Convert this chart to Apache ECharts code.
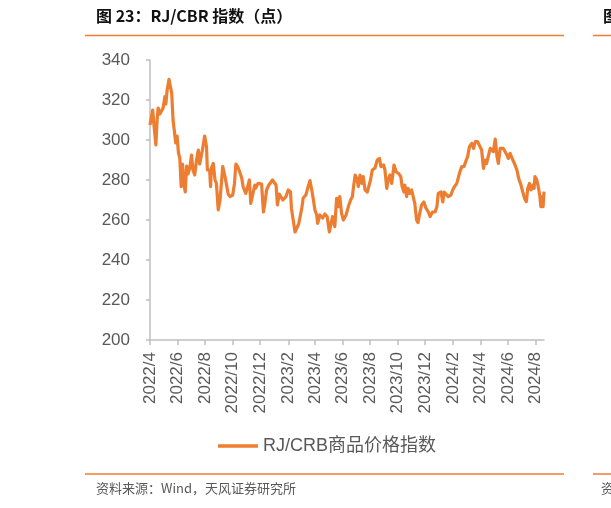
<!DOCTYPE html>
<html>
<head>
<meta charset="utf-8">
<script src="https://cdn.jsdelivr.net/npm/echarts@6/dist/echarts.min.js"></script>
<style>
html,body{margin:0;padding:0;background:#fff;}
#c{width:611px;height:508px;}
</style>
</head>
<body>
<div id="c"></div>
<script>
var title = '图 23：RJ/CBR 指数（点）';
var seriesName = 'RJ/CRB商品价格指数';
var source = '资料来源：Wind，天风证券研究所';

var dates = [
'2022-04-01','2022-04-05','2022-04-07','2022-04-10','2022-04-14','2022-04-17','2022-04-19','2022-04-23','2022-04-30',
'2022-05-04','2022-05-06','2022-05-09','2022-05-13','2022-05-19','2022-05-22','2022-05-26','2022-05-28','2022-05-31',
'2022-06-03','2022-06-06','2022-06-09','2022-06-12','2022-06-15','2022-06-18','2022-06-21','2022-06-24','2022-06-28',
'2022-07-02','2022-07-05','2022-07-09','2022-07-13','2022-07-17','2022-07-20','2022-07-26','2022-07-31',
'2022-08-04','2022-08-06','2022-08-11','2022-08-13','2022-08-15','2022-08-19','2022-08-23','2022-08-26','2022-08-30',
'2022-09-03','2022-09-09','2022-09-14','2022-09-17','2022-09-21','2022-09-25',
'2022-10-01','2022-10-05','2022-10-08','2022-10-12','2022-10-15','2022-10-21','2022-10-24','2022-10-28','2022-10-30',
'2022-11-03','2022-11-07','2022-11-10','2022-11-14','2022-11-19','2022-11-21','2022-11-26','2022-11-30',
'2022-12-04','2022-12-08','2022-12-11','2022-12-15','2022-12-20','2022-12-24','2022-12-28',
'2023-01-01','2023-01-05','2023-01-08','2023-01-12','2023-01-16','2023-01-20','2023-01-22','2023-01-27',
'2023-02-01','2023-02-06','2023-02-08','2023-02-12','2023-02-16','2023-02-19','2023-02-24',
'2023-03-03','2023-03-06','2023-03-12','2023-03-17','2023-03-21','2023-03-25','2023-03-28',
'2023-04-01','2023-04-05','2023-04-07','2023-04-12','2023-04-18','2023-04-23','2023-04-28',
'2023-05-03','2023-05-10','2023-05-15','2023-05-19','2023-05-23','2023-05-26','2023-05-30',
'2023-06-03','2023-06-09','2023-06-14','2023-06-19','2023-06-23','2023-06-25','2023-06-29',
'2023-07-03','2023-07-06','2023-07-10','2023-07-14','2023-07-17','2023-07-21','2023-07-26','2023-07-31',
'2023-08-02','2023-08-06','2023-08-12','2023-08-17','2023-08-22','2023-08-25','2023-08-31',
'2023-09-03','2023-09-07','2023-09-10','2023-09-14','2023-09-18','2023-09-23','2023-09-28',
'2023-10-03','2023-10-08','2023-10-11','2023-10-15','2023-10-17','2023-10-21','2023-10-24','2023-10-28',
'2023-11-01','2023-11-04','2023-11-08','2023-11-12','2023-11-15','2023-11-19','2023-11-23','2023-11-28',
'2023-12-03','2023-12-08','2023-12-12','2023-12-17','2023-12-23','2023-12-27','2023-12-30',
'2024-01-05','2024-01-09','2024-01-12','2024-01-16','2024-01-21','2024-01-27','2024-01-31',
'2024-02-04','2024-02-09','2024-02-13','2024-02-16','2024-02-20','2024-02-25',
'2024-03-01','2024-03-04','2024-03-08','2024-03-13','2024-03-17','2024-03-21','2024-03-26','2024-03-30',
'2024-04-04','2024-04-08','2024-04-12','2024-04-15','2024-04-19','2024-04-23','2024-04-27','2024-04-30',
'2024-05-04','2024-05-08','2024-05-11','2024-05-15','2024-05-19','2024-05-22','2024-05-26','2024-05-30',
'2024-06-02','2024-06-06','2024-06-12','2024-06-17','2024-06-21','2024-06-25','2024-06-30',
'2024-07-04','2024-07-08','2024-07-12','2024-07-15','2024-07-19','2024-07-22','2024-07-27','2024-07-29','2024-07-31',
'2024-08-04','2024-08-08','2024-08-11','2024-08-13','2024-08-17','2024-08-18','2024-08-20'
];

var values = [
307.5,307,315,307,297.5,311,316,313,316,
321.7,318,325,330.3,323.5,310,309,298.5,302,
293.5,291,276.7,288,278,274,287,283,286,
292.5,285,282.5,290,295,288,295,302,
296.7,285,285,276.7,286,288.3,280,278.3,265,
270,286.7,281.7,282.5,273,271.7,
272.5,278.3,288,286.7,285,281,276.7,277.5,273.3,
274,280,268.3,269,277.5,276,278.3,277.5,
278,264,268,275,277.5,278,280,
280,277.5,267.5,273,272,270,269,271.7,
275,274,265.8,265,254,255,258,
266,271,272.5,276.7,279.7,275,271,
265,262.5,258.3,262.5,261,263,261.7,
254,261.7,256.7,270.8,266.7,271.7,263.3,
260,262.5,266.7,270,271.7,275.8,282.5,
280.8,276.7,282.5,278.3,281.7,275,274,278.3,
280,285,286,290,290.8,286.7,287.5,
285,275.8,280,282.5,278.3,287.5,284,
283.3,281.7,276.7,274,277.5,271.7,275.8,273.3,
275,274,268.3,260,258.7,263.3,267.5,269,
265.8,264,261.7,264,264,266.7,273.3,
274,269,274,275,271.7,272.5,275,
276.7,278.3,279,284.2,286.7,286.7,
290,291.7,296.7,298.3,295.8,299.2,299.2,298.3,
295,285.8,290,288.3,288.3,295.8,296.7,294.2,
300.5,291.7,288.3,295.8,295,295.8,295,292.5,
290.8,293.3,290,287.5,285,280.8,277.5,
274,270.8,269.2,275.8,278.3,275,277.5,275.8,281.7,
280,275.8,271.7,266.7,271.7,266.7,274.2
];

var tickDates = ['2022-04-01','2022-06-01','2022-08-01','2022-10-01','2022-12-01',
'2023-02-01','2023-04-01','2023-06-01','2023-08-01','2023-10-01','2023-12-01',
'2024-02-01','2024-04-01','2024-06-01','2024-08-01'];
var xMin = '2022-04-01', xMax = '2024-08-20';
var yMin = 200, yMax = 340, yStep = 20;

function ts(s){var p=s.split('-');return Date.UTC(+p[0],+p[1]-1,+p[2]);}
var tickTs = tickDates.map(ts);
var seriesData = dates.map(function(d,i){return [ts(d), values[i]];});

var chart = echarts.init(document.getElementById('c'), null, {renderer:'canvas'});
var gray = '#595959';
var option = {
  animation:false,
  backgroundColor:'#fff',
  textStyle:{fontFamily:'Liberation Sans, Arial, Noto Sans CJK SC, sans-serif'},
  grid:{left:150, right:67, top:60, bottom:168, containLabel:false},
  xAxis:{
    type:'value',
    min:ts(xMin), max:ts(xMax),
    axisLine:{lineStyle:{color:'#BFBFBF', width:1.5}},
    axisTick:{show:true, length:5, lineStyle:{color:'#BFBFBF', width:1.5}, customValues:tickTs},
    splitLine:{show:false},
    axisLabel:{
      customValues:tickTs,
      rotate:90, margin:12, color:gray, fontSize:17,
      fontFamily:'Liberation Sans, Arial, sans-serif',
      formatter:function(v){var d=new Date(v);return d.getUTCFullYear()+'/'+(d.getUTCMonth()+1);}
    }
  },
  yAxis:{
    type:'value', min:yMin, max:yMax, interval:yStep,
    axisLine:{show:true, lineStyle:{color:'#BFBFBF', width:1.5}},
    axisTick:{show:true, length:4, lineStyle:{color:'#BFBFBF', width:1.5}},
    splitLine:{show:false},
    axisLabel:{color:gray, fontSize:17, margin:20, fontFamily:'Liberation Sans, Arial, sans-serif'}
  },
  legend:{
    show:true, left:213, top:432,
    icon:'rect', itemWidth:40, itemHeight:3.5,
    textStyle:{color:gray, fontSize:18, fontFamily:'Liberation Sans, Arial, Noto Sans CJK SC, sans-serif'},
    data:[seriesName]
  },
  series:[{
    name:seriesName, type:'line', data:seriesData,
    showSymbol:false, symbol:'none',
    lineStyle:{color:'#ED7D31', width:3.2, join:'round'},
    itemStyle:{color:'#ED7D31'}
  }],
  graphic:[
    {type:'text', left:96, top:8, style:{text:title, fill:'#111', font:'bold 16px "Noto Sans CJK SC", sans-serif'}},
    {type:'line', shape:{x1:85,y1:35.5,x2:564,y2:35.5}, style:{stroke:'#ED7D31', lineWidth:1.5}},
    {type:'line', shape:{x1:593,y1:35.5,x2:611,y2:35.5}, style:{stroke:'#ED7D31', lineWidth:1.5}},
    {type:'text', left:603, top:8, style:{text:'图', fill:'#111', font:'bold 16px "Noto Sans CJK SC", sans-serif'}},
    {type:'line', shape:{x1:85,y1:474,x2:564,y2:474}, style:{stroke:'#ED7D31', lineWidth:1.5}},
    {type:'line', shape:{x1:593,y1:474,x2:611,y2:474}, style:{stroke:'#ED7D31', lineWidth:1.5}},
    {type:'text', left:96, top:482, style:{text:source, fill:gray, font:'13px "Noto Sans CJK SC", sans-serif'}},
    {type:'text', left:601, top:482, style:{text:'资', fill:gray, font:'13px "Noto Sans CJK SC", sans-serif'}}
  ]
};
chart.setOption(option);
</script>
</body>
</html>
